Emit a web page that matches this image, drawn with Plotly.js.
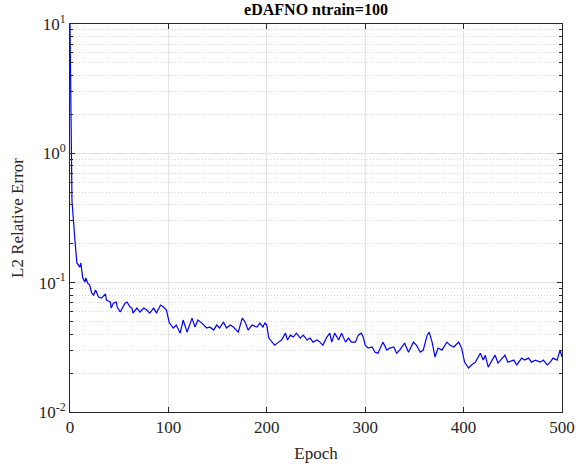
<!DOCTYPE html>
<html>
<head>
<meta charset="utf-8">
<script src="https://cdn.plot.ly/plotly-3.0.1.min.js"></script>
<style>html,body{margin:0;padding:0;background:#fff;}#chart{width:576px;height:466px;}</style>
</head>
<body>
<div id="chart"></div>
<script>
const chartTitle = "eDAFNO ntrain=100";
const xTitle = "Epoch";
const yTitle = "L2 Relative Error";
const xTickVals = [0, 100, 200, 300, 400, 500];
const yTickVals = [0.01, 0.1, 1, 10];
const yTickText = ["10<sup>-2</sup>", "10<sup>-1</sup>", "10<sup>0</sup>", "10<sup>1</sup>"];

const epochs = [0,1,2,5,7,10,11,13,15,16,18,20,22,24,26,29,32,36,37,41,42,44,47,48,51,56,58,61,63,64,68,71,75,78,81,85,88,92,95,98,
101,105,108,112,115,119,124,127,130,134,139,142,146,149,152,156,159,163,166,171,175,178,181,185,190,193,196,198,200,
202,205,208,212,215,219,221,224,227,230,234,237,241,244,247,251,254,257,261,264,266,269,273,276,280,283,286,290,293,296,298,300,
303,307,310,313,318,322,325,329,332,335,340,344,349,352,356,359,363,365,368,371,374,378,383,386,390,395,398,
401,405,408,412,417,420,422,425,429,432,435,439,442,445,451,454,459,462,466,469,473,478,481,485,488,491,495,498,500];
const errors = [10,1.2,0.43,0.2135,0.142,0.132,0.142,0.1087,0.101,0.1087,0.0993,0.0958,0.0832,0.0802,0.0877,0.0774,0.0760,0.0817,0.0734,0.0708,0.0636,0.0695,0.0708,0.0648,0.0593,0.0695,0.0708,0.0648,0.0636,0.0582,0.0636,0.0593,0.0636,0.0614,0.0582,0.0636,0.0582,0.0671,0.0648,0.0614,
0.0487,0.0446,0.0470,0.0407,0.0514,0.0415,0.0532,0.0454,0.0514,0.0487,0.0446,0.0454,0.0430,0.0470,0.0446,0.0496,0.0446,0.0470,0.0454,0.0415,0.0532,0.0496,0.0430,0.0470,0.0454,0.0487,0.0454,0.0487,0.0470,
0.0373,0.0347,0.0329,0.0347,0.0360,0.0407,0.0360,0.0393,0.0380,0.0407,0.0373,0.0393,0.0360,0.0373,0.0347,0.0360,0.0347,0.0329,0.0380,0.0407,0.0347,0.0407,0.0360,0.0407,0.0347,0.0373,0.0347,0.0347,0.0393,0.0407,0.0380,0.0329,
0.0312,0.0318,0.0290,0.0285,0.0347,0.0301,0.0312,0.0318,0.0285,0.0301,0.0341,0.0290,0.0347,0.0329,0.0290,0.0301,0.0393,0.0415,0.0347,0.0266,0.0312,0.0301,0.0347,0.0329,0.0318,0.0347,0.0312,
0.0243,0.0219,0.0231,0.0243,0.0285,0.0252,0.0275,0.0222,0.0252,0.0275,0.0239,0.0261,0.0275,0.0243,0.0252,0.0231,0.0261,0.0252,0.0261,0.0243,0.0252,0.0243,0.0252,0.0231,0.0243,0.0261,0.0252,0.0301,0.0266];

const minorVals = [];
for (const d of [0.01, 0.1, 1]) for (let k = 2; k <= 9; k++) minorVals.push(+(d * k).toPrecision(3));

const font = "Liberation Serif";
const axisColor = "#262626";

Plotly.newPlot("chart", [{
  x: epochs, y: errors, type: "scatter", mode: "lines",
  line: {color: "#0000ff", width: 1.2}, hoverinfo: "skip"
}], {
  width: 576, height: 466,
  margin: {l: 70, r: 14, t: 24, b: 54},
  paper_bgcolor: "#fff", plot_bgcolor: "#fff",
  showlegend: false,
  font: {family: font, size: 16, color: axisColor},
  title: {text: "<b>" + chartTitle + "</b>", x: 0.5, xanchor: "center", xref: "paper", y: 1, yref: "container", yanchor: "top", pad: {t: 4}, font: {family: font, size: 16, color: "#000"}},
  xaxis: {
    range: [0, 500], tickmode: "array", tickvals: xTickVals,
    ticks: "inside", ticklen: 5, tickcolor: axisColor, tickwidth: 1,
    showline: true, linecolor: axisColor, linewidth: 1, mirror: "ticks",
    showgrid: true, gridcolor: "#e3e3e3", gridwidth: 1, zeroline: false,
    tickfont: {family: font, size: 17, color: axisColor},
    title: {text: xTitle, font: {family: font, size: 17, color: axisColor}, standoff: 10}
  },
  yaxis: {
    type: "log", range: [-2, 1], tickmode: "array", tickvals: yTickVals, ticktext: yTickText,
    ticks: "inside", ticklen: 5, tickcolor: axisColor, tickwidth: 1,
    showline: true, linecolor: axisColor, linewidth: 1, mirror: "ticks",
    showgrid: true, gridcolor: "#e3e3e3", gridwidth: 1, zeroline: false,
    tickfont: {family: font, size: 17, color: axisColor},
    minor: {tickmode: "array", tickvals: minorVals, ticks: "inside", ticklen: 3, tickcolor: axisColor, showgrid: true, gridcolor: "#d4d4d4", griddash: "1px,2px", gridwidth: 1},
    title: {text: yTitle, font: {family: font, size: 17, color: axisColor}, standoff: 10}
  }
}, {staticPlot: true});
</script>
</body>
</html>
